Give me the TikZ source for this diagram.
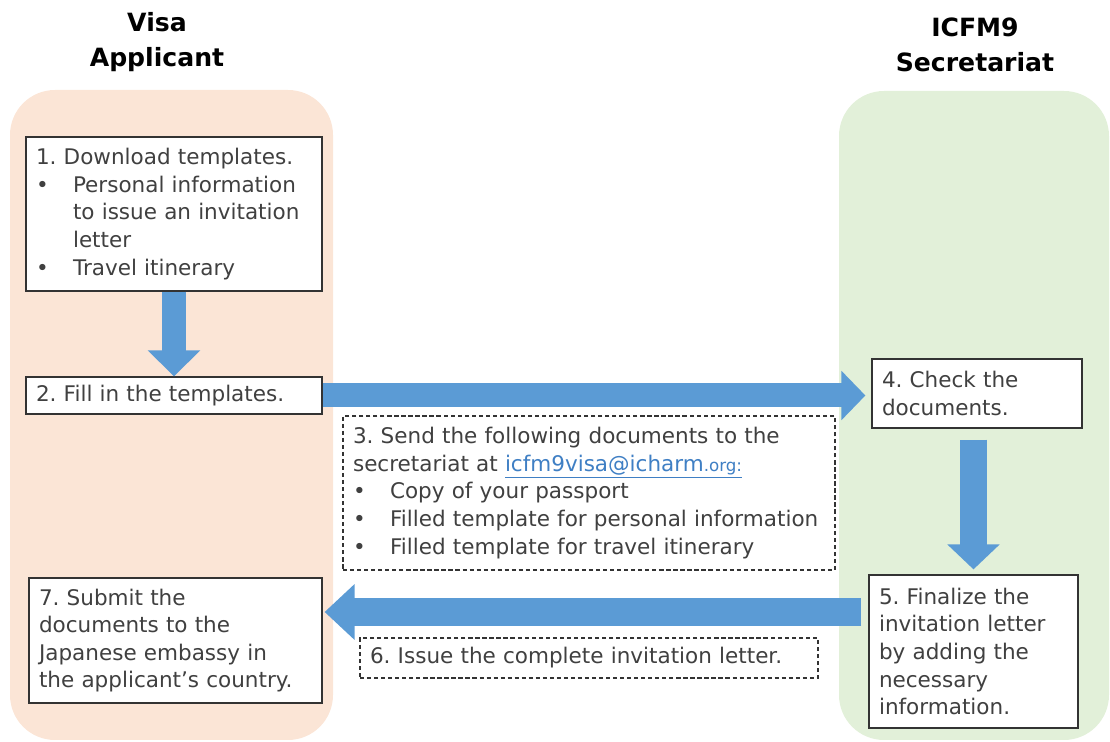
\documentclass[tikz,border=0pt]{standalone}
\usepackage{fontspec}
\setmainfont{DejaVu Sans}
\usetikzlibrary{arrows.meta}
\frenchspacing

\definecolor{lanepeach}{HTML}{FBE5D6}
\definecolor{lanegreen}{HTML}{E2F0D9}
\definecolor{flowblue}{HTML}{5B9BD5}
\definecolor{txtgray}{HTML}{404040}
\definecolor{linkblue}{HTML}{3F7FC4}

\newcommand{\bodyfont}{\fontsize{12.25pt}{15.7pt}\selectfont}
\newcommand{\headfont}{\fontsize{14.3pt}{20.1pt}\selectfont\bfseries}
\newcommand{\bitem}{\makebox[0.74cm][l]{\textbullet}}
\newcommand{\bcont}{\hspace*{0.74cm}}

\begin{document}
\begin{tikzpicture}[x=0.02cm, y=-0.02cm,
  stepbox/.style={draw=black!80, line width=0.7pt, fill=white, text=txtgray, font=\bodyfont, align=left, inner xsep=0.2cm, inner ysep=0pt},
  notebox/.style={stepbox, dash pattern=on 2.4pt off 1.6pt},
  flow/.style n args={3}{draw=flowblue, line width=#1, -{Triangle[length=#3, width=#2]}},
  head/.style={font=\headfont, align=center}]

\useasboundingbox (0,0) rectangle (1110,742);

% lanes
\fill [lanepeach, rounded corners=0.9cm] (10,90) rectangle (333,740);
\fill [lanegreen, rounded corners=0.9cm] (839,91) rectangle (1109,740);

\node [head] (applicant) at (157,42) {Visa\\Applicant};
\node [head] (secretariat) at (975,45) {ICFM9\\Secretariat};

% -------- steps -----------
\node [stepbox, minimum width=5.92cm, minimum height=3.08cm, text width=5.52cm] (dl) at (174,214)
  {1. Download templates.\\ \bitem Personal information\\ \bcont to issue an invitation\\ \bcont letter\\ \bitem Travel itinerary};
\node [stepbox, minimum width=5.92cm, minimum height=0.74cm, text width=5.52cm] (fill) at (174,395.5)
  {2. Fill in the templates.};
\node [notebox, minimum width=9.84cm, minimum height=3.08cm, text width=9.44cm] (send) at (589,493)
  {3. Send the following documents to the\\ secretariat at \textcolor{linkblue}{\underline{icfm9visa@icharm{\fontsize{9.5pt}{10pt}\selectfont.org:}}}\\ \bitem Copy of your passport\\ \bitem Filled template for personal information\\ \bitem Filled template for travel itinerary};
\node [stepbox, minimum width=4.2cm, minimum height=1.38cm, text width=3.8cm] (check) at (977,393.5)
  {4. Check the\\ documents.};
\node [stepbox, minimum width=4.18cm, minimum height=3.06cm, text width=3.78cm] (final) at (973.5,651.5)
  {5. Finalize the\\ invitation letter\\ by adding the\\ necessary\\ information.};
\node [notebox, minimum width=9.16cm, minimum height=0.8cm, text width=8.76cm] (issue) at (589,658)
  {6. Issue the complete invitation letter.};
\node [stepbox, minimum width=5.86cm, minimum height=2.5cm, text width=5.46cm] (submit) at (175.5,640.5)
  {7. Submit the\\ documents to the\\ Japanese embassy in\\ the applicant's country.};

% -------- arrows -----------
\coordinate (back) at (0,612);
\draw [flow={0.48cm}{1.02cm}{0.52cm}] (dl.south) -- (fill.north);
\draw [flow={0.48cm}{0.96cm}{0.48cm}, shorten >=0.12cm] (fill.east) -- (fill.east -| check.west);
\draw [flow={0.54cm}{1.02cm}{0.5cm}, shorten <=0.22cm, shorten >=0.1cm] (final.north |- check.south) -- (final.north);
\draw [flow={0.56cm}{1.08cm}{0.6cm}, shorten <=0.14cm, shorten >=0.04cm] (final.west |- back) -- (submit.east |- back);
\end{tikzpicture}
\end{document}
